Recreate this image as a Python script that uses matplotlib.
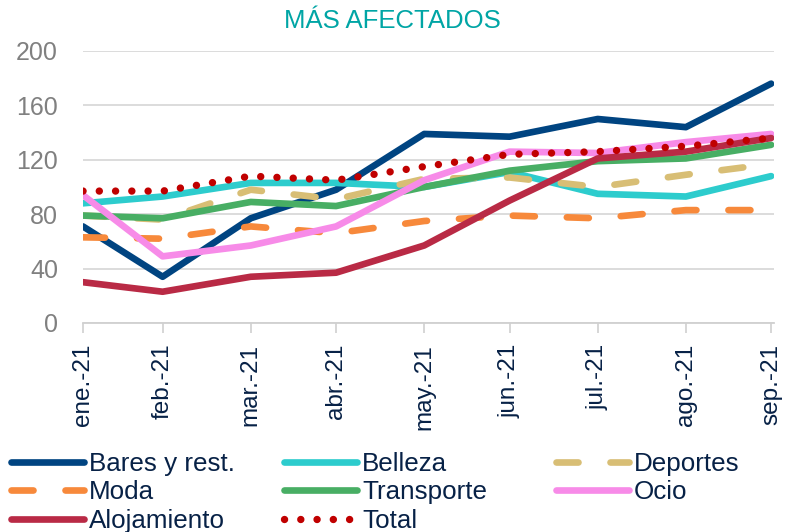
import matplotlib
matplotlib.use("Agg")
import matplotlib.pyplot as plt
from matplotlib.lines import Line2D
import pandas as pd

plt.rcParams['font.family'] = ['Liberation Sans', 'DejaVu Sans']

# Data (month-end observation dates)
dates = pd.to_datetime(["2021-01-31", "2021-02-28", "2021-03-31", "2021-04-30", "2021-05-31",
                        "2021-06-30", "2021-07-31", "2021-08-31", "2021-09-30"])
tick_labels = ["ene.-21", "feb.-21", "mar.-21", "abr.-21", "may.-21",
               "jun.-21", "jul.-21", "ago.-21", "sep.-21"]

bares = [71, 34, 77, 98, 139, 137, 150, 144, 176]
belleza = [88, 93, 103, 103, 100, 111, 95, 93, 108]
deportes = [79, 76, 98, 91, 106, 107, 100, 109, 117]
moda = [63, 62, 71, 66, 75, 79, 77, 83, 83]
transporte = [79, 77, 89, 86, 100, 112, 119, 121, 131]
ocio = [94, 49, 57, 71, 105, 126, 125, 133, 139]
alojamiento = [30, 23, 34, 37, 57, 90, 121, 126, 136]
total = [97, 97, 108, 105, 115, 124, 126, 130, 136]

title = "MÁS AFECTADOS"

W, H = 786, 532
fig = plt.figure(figsize=(W / 100, H / 100), dpi=100)
ax = fig.add_axes([83 / W, 1 - 323 / H, (774 - 83) / W, (323 - 51) / H])

lw = 4.8
dash = (0, (3.3, 4.8))
dot = (0, (0.01, 2.2))

series = [
    ("Bares y rest.", bares, "#004481", "-", lw),
    ("Belleza", belleza, "#2DCCCD", "-", lw),
    ("Deportes", deportes, "#D8BE75", dash, lw),
    ("Moda", moda, "#F7893B", dash, lw),
    ("Transporte", transporte, "#48AE64", "-", lw),
    ("Ocio", ocio, "#F78BE8", "-", lw),
    ("Alojamiento", alojamiento, "#B92A45", "-", lw),
    ("Total", total, "#C00000", dot, 5.3),
]

styles = {}
for name, vals, col, ls, w in series:
    ax.plot(dates, vals, color=col, lw=w, linestyle=ls,
            solid_capstyle='round', dash_capstyle='round',
            solid_joinstyle='round', label=name)
    styles[name] = (col, ls, w)

ax.set_ylim(0, 200)
ax.set_yticks([0, 40, 80, 120, 160, 200])
ax.set_xlim(dates[0], pd.Timestamp("2021-10-01"))
ax.set_xticks(dates)
ax.set_xticklabels(tick_labels, rotation=90, fontsize=17.5, color="#072146")
ax.tick_params(axis='x', length=7, width=1.2, color="#D0D0D0", pad=8)
ax.tick_params(axis='y', length=0, pad=18, labelsize=18, labelcolor="#808080")
ax.grid(axis='y', color="#D9D9D9", lw=1.3)
ax.set_axisbelow(True)
for s in ['top', 'right', 'left']:
    ax.spines[s].set_visible(False)
ax.spines['bottom'].set_color("#D0D0D0")
ax.spines['bottom'].set_linewidth(1.3)

fig.text(0.5 * (285 + 500) / W, 1 - 21 / H, title, ha='center', va='center',
         fontsize=18.5, color="#00A5A5")

cols = [["Bares y rest.", "Moda", "Alojamiento"],
        ["Belleza", "Transporte", "Total"],
        ["Deportes", "Ocio"]]
col_x = [11, 284, 556]
for names, x in zip(cols, col_x):
    hs = []
    for n in names:
        col, ls, w = styles[n]
        hs.append(Line2D([], [], color=col, lw=w, linestyle=ls,
                         solid_capstyle='round', dash_capstyle='round'))
    leg = fig.legend(hs, names, loc='upper left', bbox_to_anchor=(x / W, 1 - 452 / H),
                     frameon=False, fontsize=18.7, handlelength=2.8, handletextpad=0.2,
                     labelspacing=0.17, borderpad=0, borderaxespad=0)
    for t in leg.get_texts():
        t.set_color("#072146")

fig.savefig("out.png", dpi=100)
